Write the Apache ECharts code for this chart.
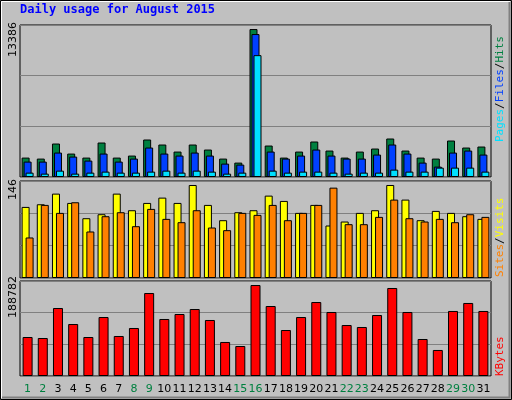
<!DOCTYPE html>
<html><head><meta charset="utf-8">
<script src="https://cdn.jsdelivr.net/npm/echarts@6/dist/echarts.min.js"></script>
<style>html,body{margin:0;padding:0;background:#C0C0C0}#c{width:512px;height:400px}</style>
</head><body><div id="c"></div>
<script>
const days = ['1','2','3','4','5','6','7','8','9','10','11','12','13','14','15','16','17','18','19','20','21','22','23','24','25','26','27','28','29','30','31'];
const weekend = ['1','2','8','9','15','16','22','23','29','30'];
const hits = [1710,1621,2948,2064,1710,3036,1710,1887,3302,2860,2240,2860,2417,1621,1268,13030,2771,1710,2240,3125,2329,1710,2240,2506,3390,2329,1710,1621,3213,2594,2683];
const files = [1356,1356,2152,1798,1445,2064,1356,1621,2594,2064,1887,2152,1887,1179,1091,12588,2240,1621,1887,2417,1887,1621,1621,1975,2860,2064,1268,914,2152,2329,1975];
const pages = [383,295,560,295,383,472,383,383,472,560,383,560,472,295,383,10731,560,383,472,472,383,295,383,383,649,472,472,825,825,825,472];
const visits = [107,111,127,113,90,96,127,102,113,121,113,140,110,87,99,102,124,116,98,110,79,85,98,102,140,118,87,101,98,93,89];
const sites = [61,110,98,114,70,93,99,78,104,89,84,102,76,72,98,95,110,87,98,110,136,81,81,92,118,90,85,89,84,96,92];
const kbytes = [77500,75500,135100,103300,77500,117200,79500,95400,164900,113300,123200,133100,111300,67600,59600,180800,139100,91400,117200,147000,127200,101300,97400,121200,174900,127200,73500,51700,129200,145100,129200];
const maxLabels = ['13386','146','188782'];
const title = 'Daily usage for August 2015';

const ch = echarts.init(document.getElementById('c'));
const L=20, W=471;
const grids=[{left:L,top:25,width:W,height:152},{left:L,top:181,width:W,height:97},{left:L,top:281,width:W,height:95}];
const maxes=[+maxLabels[0],+maxLabels[1],+maxLabels[2]];
const ax=(i)=>({type:'value',gridIndex:i,min:0,max:maxes[i],interval:maxes[i]/3,axisLabel:{show:false},axisLine:{show:false},axisTick:{show:false},splitLine:{show:true,lineStyle:{color:'#808080',width:1}}});
const xa=(i)=>({type:'category',gridIndex:i,data:days,axisLine:{show:false},axisTick:{show:false},
  axisLabel:{show:i===2,fontFamily:'DejaVu Sans',fontSize:11,margin:8,interval:0,color:(v)=>weekend.includes(v)?'#008040':'#000'}});
const bs={borderColor:'#000',borderWidth:1};
const bar=(name,data,g,color,w,gap)=>({name,type:'bar',xAxisIndex:g,yAxisIndex:g,data,barWidth:w,barGap:gap,itemStyle:Object.assign({color},bs),animation:false});
const mono='DejaVu Sans Mono';
ch.setOption({
  backgroundColor:'#C0C0C0',
  grid:grids.map(g=>Object.assign({show:true,borderColor:'#000',borderWidth:1,backgroundColor:'#C0C0C0'},g)),
  xAxis:[xa(0),xa(1),xa(2)],
  yAxis:[ax(0),ax(1),ax(2)],
  series:[
    bar('Hits',hits,0,'#008040',8,'-75%'),
    bar('Files',files,0,'#0040FF',8,'-75%'),
    bar('Pages',pages,0,'#00E0FF',8,'-75%'),
    bar('Visits',visits,1,'#FFFF00',8,'-50%'),
    bar('Sites',sites,1,'#FF8000',8,'-50%'),
    bar('KBytes',kbytes,2,'#FF0000',10,'0%')
  ],
  graphic:[
    {type:'rect',shape:{x:0.5,y:0.5,width:511,height:399},style:{fill:'none',stroke:'#000',lineWidth:1},z:100},
    {type:'polyline',shape:{points:[[1.5,398],[1.5,1.5],[510,1.5]]},style:{stroke:'#fff',fill:'none',lineWidth:1},z:100},
    {type:'polyline',shape:{points:[[2,397.5],[509.5,397.5],[509.5,2]]},style:{stroke:'#808080',fill:'none',lineWidth:2},z:100},
    {type:'text',left:20,top:4,style:{text:title,fill:'#0000FF',font:'bold 12px "DejaVu Sans Mono"'}},
    {type:'text',x:8,y:57,rotation:Math.PI/2,style:{text:maxLabels[0],fill:'#000',font:'11px "DejaVu Sans"'}},
    {type:'text',x:8,y:200,rotation:Math.PI/2,style:{text:maxLabels[1],fill:'#000',font:'11px "DejaVu Sans"'}},
    {type:'text',x:8,y:318,rotation:Math.PI/2,style:{text:maxLabels[2],fill:'#000',font:'11px "DejaVu Sans"'}},
    {type:'text',x:495,y:142,rotation:Math.PI/2,style:{text:'{p|Pages}{k|/}{f|Files}{k|/}{h|Hits}',rich:{p:{fill:'#00E0FF',font:'11px "DejaVu Sans Mono"'},k:{fill:'#000',font:'11px "DejaVu Sans Mono"'},f:{fill:'#0040FF',font:'11px "DejaVu Sans Mono"'},h:{fill:'#008040',font:'11px "DejaVu Sans Mono"'}}}},
    {type:'text',x:495,y:277,rotation:Math.PI/2,style:{text:'{s|Sites}{k|/}{v|Visits}',rich:{s:{fill:'#FF8000',font:'11px "DejaVu Sans Mono"'},k:{fill:'#000',font:'11px "DejaVu Sans Mono"'},v:{fill:'#FFFF00',font:'11px "DejaVu Sans Mono"'}}}},
    {type:'text',x:495,y:376,rotation:Math.PI/2,style:{text:'KBytes',fill:'#FF0000',font:'11px "DejaVu Sans Mono"'}}
  ]
});
</script></body></html>
